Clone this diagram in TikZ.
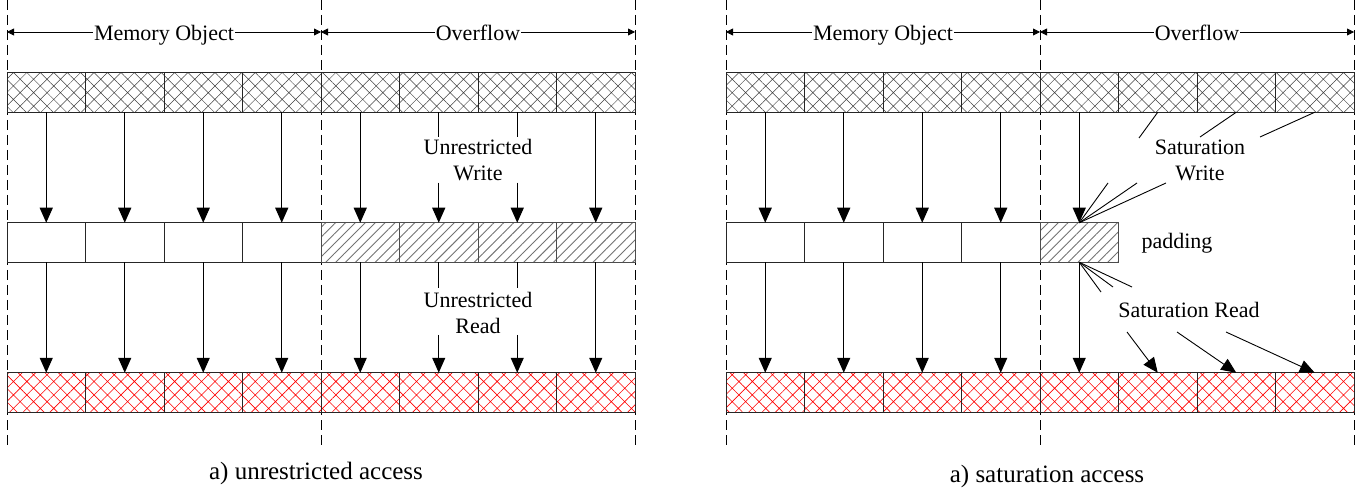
\documentclass[tikz,border=0pt]{standalone}
\usepackage{fontspec}
\setmainfont{Liberation Serif}
\usetikzlibrary{patterns.meta,arrows.meta}
\begin{document}
\begin{tikzpicture}[x=1pt,y=-1pt,
  cell/.style={draw=black!85, line width=0.8pt, minimum width=78.5pt, minimum height=39.5pt, inner sep=0pt, outer sep=0pt},
  topcell/.style={cell, pattern={Hatch[angle=45,distance=9.5pt,line width=0.5pt]}, pattern color=black!75},
  botcell/.style={cell, pattern={Hatch[angle=45,distance=9.5pt,line width=0.6pt]}, pattern color=red},
  padcell/.style={cell, draw=black!70, pattern={Lines[angle=45,distance=7pt,line width=0.9pt]}, pattern color=black!55},
  midcell/.style={cell},
  arr/.style={line width=1.1pt, -{Triangle[length=15pt,width=13pt]}},
  seg/.style={line width=0.9pt},
  dim/.style={line width=0.8pt, {Triangle[length=7pt,width=7pt]}-{Triangle[length=7pt,width=7pt]}},
  guide/.style={line width=0.8pt, dash pattern=on 10pt off 5pt},
  lab/.style={font=\fontsize{22}{26}\selectfont, align=center, inner sep=1pt},
  dimlab/.style={font=\fontsize{22}{26}\selectfont, fill=white, inner xsep=1pt, inner ysep=0pt, anchor=base},
  captext/.style={font=\fontsize{25}{30}\selectfont, anchor=base}
]
\useasboundingbox (0,0) rectangle (1369,489);

% guide lines
\foreach \x in {7,321,635,726,1040,1354} \draw[guide] (\x,0) -- (\x,448);

% dimension lines
\coordinate (L-d0) at (7,32);
\coordinate (L-d1) at (321,32);
\coordinate (L-d2) at (635,32);
\coordinate (R-d0) at (726,32);
\coordinate (R-d1) at (1040,32);
\coordinate (R-d2) at (1354,32);
\draw[dim] (L-d0) -- (L-d1);
\draw[dim] (L-d1) -- (L-d2);
\draw[dim] (R-d0) -- (R-d1);
\draw[dim] (R-d1) -- (R-d2);
\node[dimlab] (L-mo) at (164,41) {Memory Object};
\node[dimlab] (L-of) at (478,41) {Overflow};
\node[dimlab] (R-mo) at (883,41) {Memory Object};
\node[dimlab] (R-of) at (1197,41) {Overflow};

% left panel cells
\foreach \i in {1,...,8} {
  \node[topcell] (L-t\i) at ({7+78.5*(\i-0.5)},92.5) {};
  \node[botcell] (L-b\i) at ({7+78.5*(\i-0.5)},392.5) {};
}
\foreach \i in {1,...,4} \node[midcell] (L-m\i) at ({7+78.5*(\i-0.5)},242.5) {};
\foreach \i in {5,...,8} \node[padcell] (L-m\i) at ({7+78.5*(\i-0.5)},242.5) {};

% left arrows
\foreach \i in {1,2,3,4,5,8} {
  \draw[arr] (L-t\i.south) -- (L-m\i.north);
  \draw[arr] (L-m\i.south) -- (L-b\i.north);
}
\foreach \i in {6,7} {
  \path (L-t\i.south) ++(0,25) coordinate (L-wa\i);
  \path (L-m\i.north) ++(0,-40) coordinate (L-wb\i);
  \path (L-m\i.south) ++(0,26) coordinate (L-ra\i);
  \path (L-b\i.north) ++(0,-38) coordinate (L-rb\i);
  \draw[seg,line width=1.1pt] (L-t\i.south) -- (L-wa\i);
  \draw[arr] (L-wb\i) -- (L-m\i.north);
  \draw[seg,line width=1.1pt] (L-m\i.south) -- (L-ra\i);
  \draw[arr] (L-rb\i) -- (L-b\i.north);
}
\node[lab] (L-uw) at (478,160) {Unrestricted\\Write};
\node[lab] (L-ur) at (478,313) {Unrestricted\\Read};

% right panel cells
\foreach \i in {1,...,8} {
  \node[topcell] (R-t\i) at ({726+78.5*(\i-0.5)},92.5) {};
  \node[botcell] (R-b\i) at ({726+78.5*(\i-0.5)},392.5) {};
}
\foreach \i in {1,...,4} \node[midcell] (R-m\i) at ({726+78.5*(\i-0.5)},242.5) {};
\node[padcell] (R-m5) at ({726+78.5*4.5},242.5) {};

\foreach \i in {1,...,5} {
  \draw[arr] (R-t\i.south) -- (R-m\i.north);
  \draw[arr] (R-m\i.south) -- (R-b\i.north);
}

% saturation write
\coordinate (R-w6) at (1139,138);
\coordinate (R-w7) at (1200,137);
\coordinate (R-w8) at (1260,137);
\foreach \i in {6,7,8} \draw[seg] (R-t\i.south) -- (R-w\i);
\coordinate (R-v1) at (1108,183);
\coordinate (R-v2) at (1137,183);
\coordinate (R-v3) at (1166,183);
\foreach \k in {1,2,3} \draw[seg] (R-v\k) -- (R-m5.north);

% saturation read
\coordinate (R-u1) at (1101,292);
\coordinate (R-u2) at (1113,287);
\coordinate (R-u3) at (1132,287);
\foreach \k in {1,2,3} \draw[seg] (R-m5.south) -- (R-u\k);
\coordinate (R-r6) at (1127,332);
\coordinate (R-r7) at (1177,332);
\coordinate (R-r8) at (1226,332);
\foreach \i in {6,7,8} \draw[arr,line width=0.9pt] (R-r\i) -- (R-b\i.north);

\node[lab] (R-sw) at (1200,160) {Saturation\\Write};
\node[lab] (R-pad) at (1177,243) {padding};
\node[lab] (R-sr) at (1189,310) {Saturation Read};

% captions
\node[captext] (L-cap) at (316,479) {a) unrestricted access};
\node[captext] (R-cap) at (1047,482) {a) saturation access};
\end{tikzpicture}
\end{document}
